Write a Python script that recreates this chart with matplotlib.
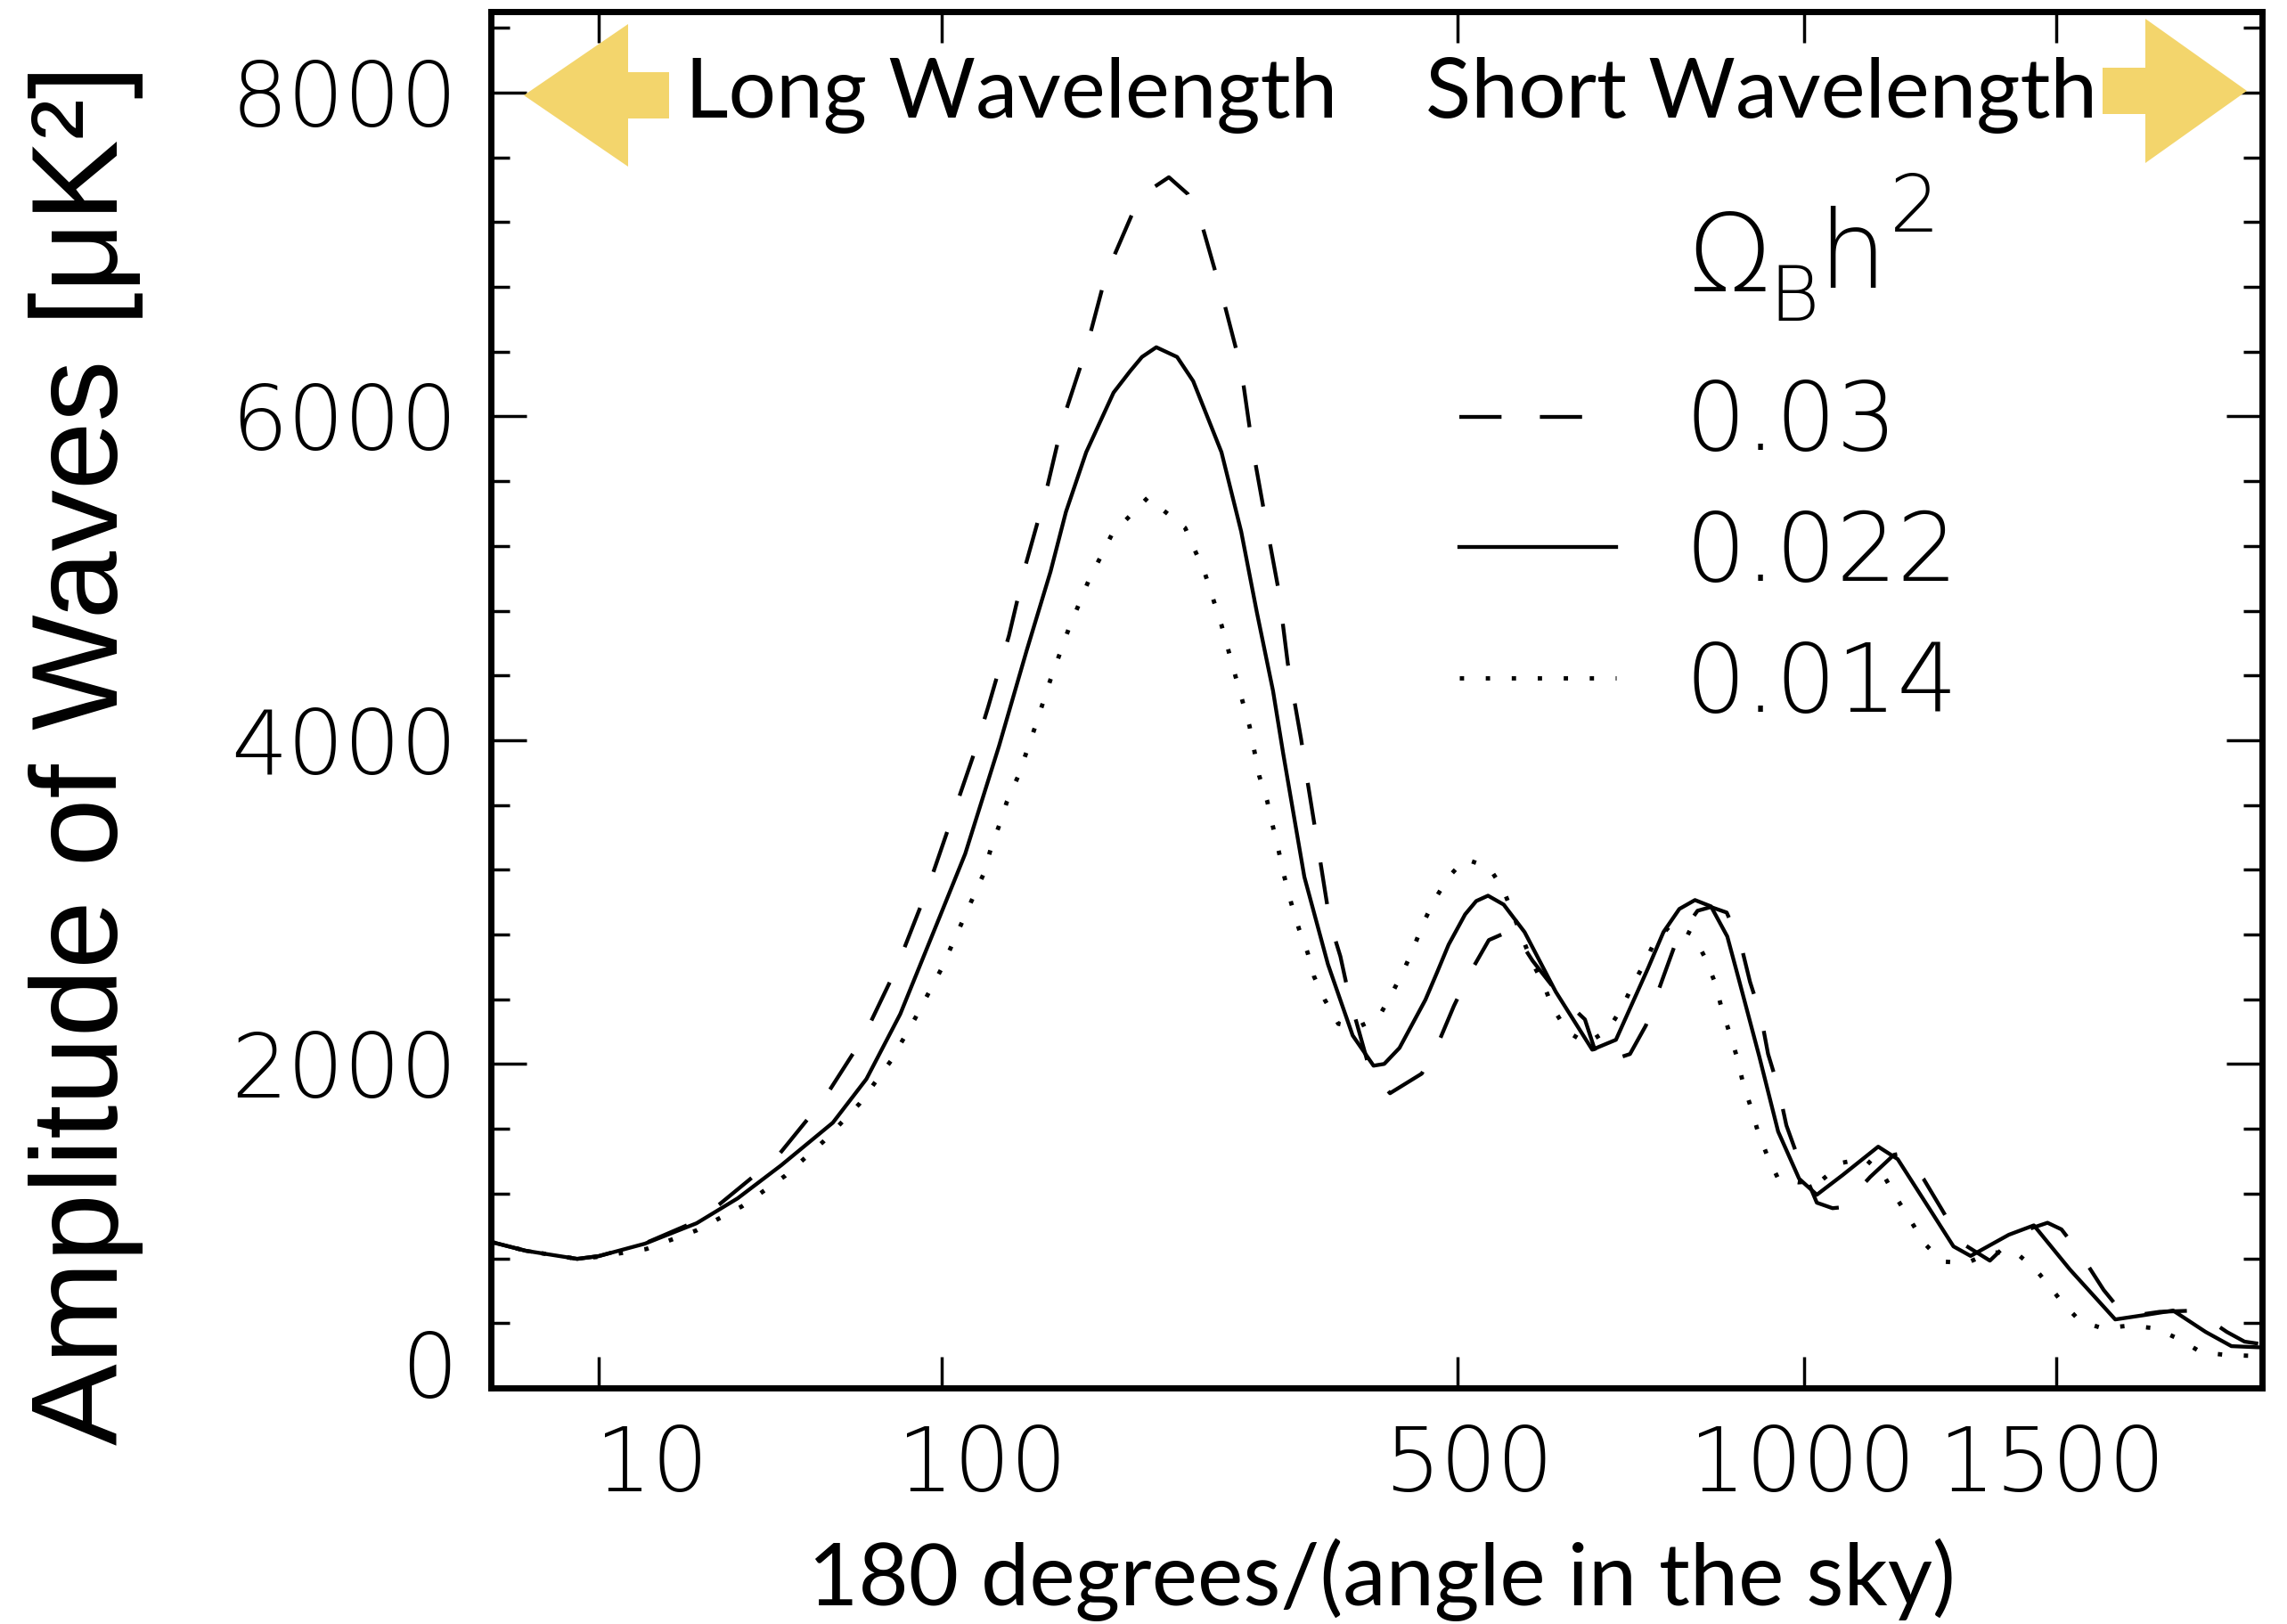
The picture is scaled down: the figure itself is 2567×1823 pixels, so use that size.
import numpy as np
import matplotlib
matplotlib.use("Agg")
import matplotlib.pyplot as plt
from matplotlib.patches import Polygon
from matplotlib.ticker import MultipleLocator, FixedLocator, NullLocator
from matplotlib.transforms import ScaledTranslation

# ---------------- data ----------------
solid_l = [2, 3.8, 7.8, 10, 15.9, 24.5, 33, 43.7, 58.8, 70.1, 82.7, 99.6, 110.5, 126.9,
           141.3, 154.6, 163.5, 175.7, 193, 204, 212, 222, 237, 249, 261, 271, 287, 300, 314,
           323, 342, 364, 388, 409, 420, 436, 464, 477, 490, 509, 522, 536, 555, 581, 621, 670,
           703, 749, 772, 796, 820, 845, 871, 890, 923, 955, 991, 1022, 1068, 1134, 1171, 1240,
           1281, 1316, 1396, 1450, 1530, 1634, 1706, 1773, 1854, 1920, 2000]
solid_v = [902, 847, 797, 814, 891, 1017, 1171, 1375, 1638, 1908, 2309, 2930, 3299, 3964,
           4552, 5042, 5410, 5779, 6147, 6280, 6367, 6427, 6367, 6218, 5976, 5779, 5289, 4794,
           4305, 3915, 3156, 2617, 2177, 1990, 2001, 2100, 2397, 2567, 2738, 2925, 3007, 3040,
           2985, 2815, 2447, 2089, 2150, 2590, 2815, 2958, 3013, 2974, 2788, 2518, 2051, 1583,
           1292, 1193, 1314, 1490, 1413, 1072, 874, 815, 946, 1004, 731, 423, 451, 478, 346,
           258, 250]

dash_l = [2, 3.8, 7.8, 10, 15.9, 24.5, 29, 42.5, 55.9, 68.9, 81, 94, 114, 121.5, 132, 141,
          152, 162, 175.7, 188, 207, 215, 231, 245, 256, 272, 287, 296, 307, 319, 327, 339, 344,
          355, 366, 376, 384, 395, 405, 426, 460, 479, 496, 514, 537, 566, 591, 627, 660, 680,
          723, 746, 772, 792, 824, 845, 870, 893, 908, 926, 938, 955, 969, 990, 1022, 1050,
          1068, 1119, 1164, 1180, 1221, 1257, 1297, 1356, 1419, 1480, 1511, 1557, 1607, 1658,
          1740, 1828, 1908, 1954, 2000]
dash_v = [902, 847, 797, 814, 893, 1030, 1133, 1424, 1781, 2161, 2584, 3090, 3893, 4206,
          4646, 5091, 5531, 5987, 6416, 6873, 7285, 7384, 7477, 7373, 7175, 6735, 6295, 5828,
          5383, 4921, 4475, 4008, 3783, 3328, 2874, 2665, 2432, 2187, 1968, 1820, 1941, 2139,
          2359, 2557, 2766, 2830, 2639, 2419, 2276, 2000, 2062, 2238, 2540, 2766, 2947, 2970,
          2936, 2738, 2507, 2298, 2062, 1858, 1622, 1413, 1144, 1110, 1116, 1303, 1440, 1450,
          1292, 1105, 896, 786, 962, 1020, 979, 814, 605, 440, 470, 478, 346, 286, 270]

dot_l = [2, 3.8, 7.8, 10, 16.1, 24.5, 34, 44.7, 55.9, 67.6, 79, 88.8, 99.6, 109, 114, 119,
         122.6, 127, 131, 137, 145.7, 154.6, 165, 177, 192, 216, 243, 258, 271, 282, 294, 302,
         309, 314, 319, 324, 330, 337, 345, 351, 361, 374, 392, 414, 427, 440, 451, 461, 474,
         490, 509, 537, 554, 590, 605, 617, 637, 662, 692, 712, 728, 746, 757, 784, 817, 836,
         851, 861, 874, 886, 896, 909, 921, 936, 955, 990, 1030, 1068, 1109, 1145, 1169, 1196,
         1222, 1258, 1307, 1357, 1411, 1454, 1488, 1511, 1553, 1605, 1668, 1730, 1787, 1843,
         1908, 1976, 2000]
dot_v = [902, 847, 797, 810, 858, 973, 1122, 1309, 1523, 1754, 2018, 2287, 2584, 2875, 3024,
         3167, 3321, 3475, 3623, 3783, 4074, 4376, 4684, 4981, 5273, 5498, 5311, 5031, 4712,
         4404, 4085, 3783, 3623, 3464, 3315, 3156, 2996, 2837, 2688, 2540, 2397, 2249, 2225,
         2287, 2425, 2573, 2716, 2864, 3013, 3156, 3266, 3216, 3084, 2634, 2496, 2348, 2199,
         2128, 2210, 2353, 2496, 2639, 2738, 2864, 2798, 2655, 2507, 2359, 2199, 2051, 1891,
         1737, 1583, 1440, 1292, 1270, 1281, 1391, 1418, 1309, 1171, 1034, 896, 781, 770, 836,
         836, 731, 616, 533, 412, 368, 385, 368, 302, 220, 203, 198, 198]

series_labels = ["0.03", "0.022", "0.014"]
x_ticks = [10, 100, 500, 1000, 1500]
x_ticklabels = ["10", "100", "500", "1000", "1500"]
y_ticks = [0, 2000, 4000, 6000, 8000]
y_ticklabels = ["0", "2000", "4000", "6000", "8000"]

# ---------------- figure ----------------
W, H = 2567, 1823
DPI = 100
fig = plt.figure(figsize=(W / DPI, H / DPI), dpi=DPI)


def fx(x):
    return x / W


def fy(y):
    return 1 - y / H


ax = fig.add_axes([fx(551), fy(1558), (2539 - 551) / W, (1558 - 13) / H])


def fwd(x):
    x = np.asarray(x, dtype=float)
    return np.sign(x) * np.abs(x) ** 0.4


def inv(u):
    u = np.asarray(u, dtype=float)
    return np.sign(u) * np.abs(u) ** 2.5


ax.set_xscale("function", functions=(fwd, inv))
ax.set_xlim(2, 2000)
ax.set_ylim(0, 8500)

lw = 3.1
ax.plot(dash_l, dash_v, color="black", lw=lw, linestyle=(0, (11, 10)), label=series_labels[0])
ax.plot(solid_l, solid_v, color="black", lw=lw, linestyle="-", label=series_labels[1])
ax.plot(dot_l, dot_v, color="black", lw=3.5, linestyle=(0, (1, 5.0)), label=series_labels[2])

for s in ax.spines.values():
    s.set_linewidth(5)

tick_font = dict(family="DejaVu Sans", weight="light", size=72)
ax.xaxis.set_major_locator(FixedLocator(x_ticks))
ax.xaxis.set_minor_locator(NullLocator())
ax.set_xticklabels(x_ticklabels, **tick_font)
ax.yaxis.set_major_locator(FixedLocator(y_ticks))
ax.yaxis.set_minor_locator(MultipleLocator(400))
ax.set_yticklabels(y_ticklabels, **tick_font)

ax.tick_params(axis="both", which="both", direction="in", top=True, right=True, width=2.5)
ax.tick_params(axis="x", which="major", length=25, pad=29)
ax.tick_params(axis="y", which="major", length=29, pad=27)
ax.tick_params(axis="y", which="minor", length=15)

# per-label offsets as in reference
x_off_px = [60, 45, 13, -2, -5]
for lab, dx in zip(ax.get_xticklabels(), x_off_px):
    lab.set_transform(lab.get_transform() + ScaledTranslation(dx / DPI, 0, fig.dpi_scale_trans))
ylabs = ax.get_yticklabels()
ylabs[0].set_transform(ylabs[0].get_transform() + ScaledTranslation(0, 27 / DPI, fig.dpi_scale_trans))

# legend
leg = ax.legend(loc="upper left", bbox_to_anchor=(fx(1638), fy(424)),
                bbox_transform=fig.transFigure, frameon=False,
                prop=dict(family="DejaVu Sans", weight="light", size=77),
                handlelength=1.65, handletextpad=0.72, labelspacing=0.40,
                borderpad=0, borderaxespad=0)

# legend title  Omega_B h^2
lt = dict(family="DejaVu Sans", weight="light", va="baseline", ha="left")
fig.text(fx(1895), fy(327), "Ω", size=88, **lt)
fig.text(fx(1985), fy(360), "B", size=62, **lt)
fig.text(fx(2040), fy(323), "h", size=88, **lt)
fig.text(fx(2121), fy(260), "2", size=64, **lt)

# arrows
arrow_col = "#F3D56C"
left_arrow = [(588, 107), (705, 27), (705, 81), (751, 81), (751, 133), (705, 133), (705, 187)]
right_arrow = [(2522, 102), (2408, 21), (2408, 76), (2360, 76), (2360, 128), (2408, 128), (2408, 183)]
for pts in (left_arrow, right_arrow):
    fig.patches.append(Polygon([(fx(x), fy(y)) for x, y in pts], closed=True,
                               transform=fig.transFigure, facecolor=arrow_col,
                               edgecolor="none", zorder=1, figure=fig))

head_font = dict(family="Lato", size=68)
fig.text(fx(769), fy(132), "Long Wavelength", ha="left", va="baseline", **head_font)
fig.text(fx(1600), fy(132), "Short Wavelength", ha="left", va="baseline", **head_font)

# axis labels
fig.text(fx(1551), fy(1802), "180 degrees/(angle in the sky)", ha="center", va="baseline",
         family="Lato", size=70)
fig.text(fx(132), fy(847), "Amplitude of Waves [μK²]", rotation=90, rotation_mode="anchor",
         ha="center", va="baseline", family="Liberation Sans", size=99)

fig.savefig("out.png", dpi=DPI)
